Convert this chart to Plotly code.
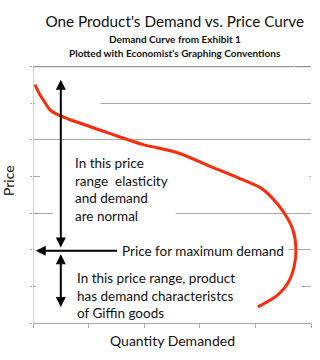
import plotly.graph_objects as go

# Demand curve (quantity vs price)
quantity = [0.07, 0.25, 0.43, 0.61, 0.97, 1.34, 2.06, 2.78, 3.97, 5.20, 6.39, 7.36,
            8.19, 8.56, 9.03, 9.35, 9.46, 9.39, 9.17, 8.81, 8.09]
price = [6.51, 6.23, 6.02, 5.82, 5.66, 5.55, 5.36, 5.17, 4.87, 4.65, 4.27, 3.97,
         3.69, 3.45, 3.01, 2.54, 2.00, 1.53, 1.09, 0.77, 0.44]

x_range = [0, 10]
y_range = [0, 7.4]
x_ticks = [0, 2, 4, 6, 8, 10]
y_ticks = [0, 1, 2, 3, 4, 5, 6, 7]
y_top = 7

# annotation arrow geometry (data units)
arrow_q = 1.0          # quantity at which vertical arrows sit
price_max_demand = 1.97
upper_arrow_top = 6.64
lower_arrow_bottom = 0.44
label_arrow_left = 0.1
label_arrow_right = 3.08

title = "One Product's Demand vs. Price Curve"
subtitle1 = "Demand Curve from Exhibit 1"
subtitle2 = "Plotted with Economist's Graphing Conventions"
note_upper = "In this price<br>range  elasticity<br>and demand<br>are normal"
note_lower = "In this price range, product<br>has demand characteristcs<br>of Giffin goods"
note_max = "Price for maximum demand"

FONT = "Lato"
GRID = "#a8a8a8"
RED = "#ff2a0a"

fig = go.Figure()
fig.add_trace(go.Scatter(x=quantity, y=price, mode="lines",
                         line=dict(color=RED, width=3, shape="spline", smoothing=0.8),
                         hoverinfo="skip", showlegend=False))

# white masks that hide parts of gridlines behind text/arrows (between grid and traces)
masks = [
    (0.07, 2.42, 5.9, 6.1),
    (0.25, 9.93, 3.9, 4.1),
    (0.72, 5.13, 2.9, 3.1),
    (0.05, 9.2, 1.9, 2.1),
    (0.1, 9.64, 0.9, 1.1),
]
for x0, x1, y0, y1 in masks:
    fig.add_shape(type="rect", x0=x0, x1=x1, y0=y0, y1=y1, xref="x", yref="y",
                  fillcolor="white", line=dict(width=0), layer="between")

# frame: left axis line and top border at the top gridline
fig.add_shape(type="line", xref="x", yref="y", x0=0, x1=0, y0=0, y1=y_top,
              line=dict(color=GRID, width=1), layer="below")
fig.add_shape(type="line", xref="x", yref="y", x0=0, x1=9.35, y0=y_top, y1=y_top,
              line=dict(color="#999999", width=1.3), layer="above")
fig.add_shape(type="line", xref="x", yref="y", x0=9.43, x1=10, y0=y_top, y1=y_top,
              line=dict(color="#999999", width=1.3), layer="above")

anns = []
# upper double arrow
anns.append(dict(x=arrow_q, y=upper_arrow_top, ax=arrow_q, ay=price_max_demand + 0.05,
                 xref="x", yref="y", axref="x", ayref="y", text="", showarrow=True,
                 arrowhead=2, arrowside="end+start", arrowsize=1, arrowwidth=2, arrowcolor="black"))
# lower double arrow
anns.append(dict(x=arrow_q, y=lower_arrow_bottom, ax=arrow_q, ay=price_max_demand - 0.05,
                 xref="x", yref="y", axref="x", ayref="y", text="", showarrow=True,
                 arrowhead=2, arrowside="end+start", arrowsize=1, arrowwidth=2, arrowcolor="black"))
# horizontal arrow
anns.append(dict(x=label_arrow_left, y=price_max_demand, ax=label_arrow_right, ay=price_max_demand,
                 xref="x", yref="y", axref="x", ayref="y", text="", showarrow=True,
                 arrowhead=2, arrowsize=1, arrowwidth=2, arrowcolor="black"))
anns.append(dict(x=label_arrow_right + 0.05, y=price_max_demand, xref="x", yref="y", text=note_max,
                 showarrow=False, xanchor="left", yanchor="middle",
                 font=dict(family=FONT, size=13.5, color="#111")))
anns.append(dict(x=1.44, y=4.65, xref="x", yref="y", text=note_upper, showarrow=False,
                 xanchor="left", yanchor="top", align="left",
                 font=dict(family=FONT, size=13.5, color="#111")))
anns.append(dict(x=1.5, y=1.49, xref="x", yref="y", text=note_lower, showarrow=False,
                 xanchor="left", yanchor="top", align="left",
                 font=dict(family=FONT, size=13.5, color="#111")))
# subtitles
anns.append(dict(x=0.51, y=1.0, xref="paper", yref="paper", yshift=13, text="<b>" + subtitle1 + "</b>",
                 showarrow=False, xanchor="center", yanchor="middle",
                 font=dict(family=FONT, size=10, color="#111")))
anns.append(dict(x=0.51, y=1.0, xref="paper", yref="paper", yshift=-1, text="<b>" + subtitle2 + "</b>",
                 showarrow=False, xanchor="center", yanchor="middle",
                 font=dict(family=FONT, size=10, color="#111")))
# axis titles
anns.append(dict(x=0.5, y=0, xref="paper", yref="paper", yshift=-17, text="Quantity Demanded",
                 showarrow=False, xanchor="center", yanchor="middle",
                 font=dict(family=FONT, size=14, color="#111")))
anns.append(dict(x=0, y=0.524, xref="paper", yref="paper", xshift=-24, text="Price", textangle=-90,
                 showarrow=False, xanchor="center", yanchor="middle",
                 font=dict(family=FONT, size=14, color="#111")))

fig.update_layout(
    width=320, height=360,
    margin=dict(l=33, r=9, t=52, b=37),
    paper_bgcolor="white", plot_bgcolor="white",
    title=dict(text=title, x=0.51, xref="paper", xanchor="center", y=1, yref="container",
               yanchor="top", pad=dict(t=16),
               font=dict(family=FONT, size=15.3, color="#111")),
    annotations=anns,
    showlegend=False,
)
fig.update_xaxes(range=x_range, tickvals=x_ticks, showticklabels=False, showgrid=False,
                 showline=True, linecolor=GRID, linewidth=1, ticks="outside", ticklen=4,
                 tickcolor=GRID, zeroline=False, fixedrange=True)
fig.update_yaxes(range=y_range, tickvals=y_ticks, showticklabels=False, showgrid=True,
                 gridcolor=GRID, gridwidth=1, showline=False,
                 ticks="outside", ticklen=2, tickcolor=GRID, zeroline=False, fixedrange=True)

fig.write_html("out.html", config=dict(displayModeBar=False))
